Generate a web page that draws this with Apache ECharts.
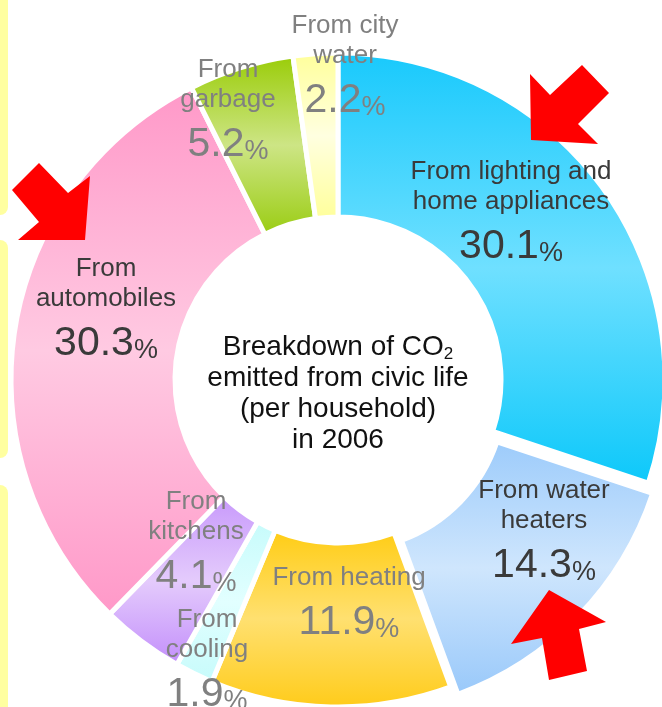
<!DOCTYPE html>
<html><head><meta charset="utf-8">
<script src="https://cdn.jsdelivr.net/npm/echarts@6/dist/echarts.min.js"></script>
<style>html,body{margin:0;padding:0;background:#fff;overflow:hidden}#c{width:662px;height:707px}</style>
</head><body><div id="c"></div>
<script>
// ---- data ----
const categories = ['From lighting and\nhome appliances', 'From water\nheaters', 'From heating', 'From\ncooling', 'From\nkitchens', 'From\nautomobiles', 'From\ngarbage', 'From city\nwater'];
const values = [30.1, 14.3, 11.9, 1.9, 4.1, 30.3, 5.2, 2.2];
const centerTitle = ['Breakdown of CO{s|2}', 'emitted from civic life', '(per household)', 'in 2006'];

// ---- styles ----
const gradients = [
  ['#18c9fc', '#6fe0ff', '#0cc8fa'],
  ['#9ccbfb', '#cfe6fd', '#98c8fa'],
  ['#ffcc12', '#ffe070', '#ffcb18'],
  ['#c6fbfb', '#e2ffff', '#c6fbfb'],
  ['#c798fb', '#e4cbfc', '#c28dfb'],
  ['#ff98c8', '#ffcae2', '#ff98c8'],
  ['#99cc05', '#cde585', '#99cc10'],
  ['#ffff99', '#ffffe0', '#ffff99']
];
const labelColors = ['#3a3a3a', '#3a3a3a', '#808080', '#808080', '#808080', '#3a3a3a', '#808080', '#808080'];
const labelAnchors = [[511, 157], [544, 476], [349, 563], [207, 605], [196, 487], [106, 254], [228, 55], [345, 11]];
const explodedItem = 1; // "From water heaters" is pulled out of the ring

const chart = echarts.init(document.getElementById('c'), null, { renderer: 'canvas' });

function buildData(showFn) {
  return categories.map((name, i) => {
    const vis = showFn(i);
    return {
      name: name,
      value: values[i],
      itemStyle: {
        opacity: vis ? 1 : 0,
        color: {
          type: 'linear', x: 0, y: 0, x2: 0, y2: 1,
          colorStops: [
            { offset: 0, color: gradients[i][0] },
            { offset: 0.5, color: gradients[i][1] },
            { offset: 1, color: gradients[i][2] }
          ]
        }
      },
      label: { show: vis, color: labelColors[i] }
    };
  });
}

const labelOpt = {
  show: true,
  position: 'inside',
  fontFamily: 'Liberation Sans, Arial, sans-serif',
  formatter: function (p) {
    const lines = p.name.split('\n').map(s => '{n|' + s + '}');
    return lines.join('\n') + '\n{v|' + p.value.toFixed(1) + '}{p|%}';
  },
  rich: {
    n: { fontSize: 26, lineHeight: 30 },
    v: { fontSize: 41, lineHeight: 50, verticalAlign: 'bottom' },
    p: { fontSize: 27, lineHeight: 42, verticalAlign: 'bottom' }
  }
};
function labelLayout(p) {
  const a = labelAnchors[p.dataIndex];
  return { x: a[0], y: a[1], align: 'center', verticalAlign: 'top' };
}
function pieSeries(center, radius, showFn, z) {
  return {
    type: 'pie',
    z: z,
    center: center,
    radius: radius,
    startAngle: 90,
    clockwise: true,
    avoidLabelOverlap: false,
    silent: true,
    emphasis: { scale: false, disabled: true },
    itemStyle: { borderColor: '#ffffff', borderWidth: 5 },
    labelLine: { show: false },
    label: labelOpt,
    labelLayout: labelLayout,
    data: buildData(showFn)
  };
}

function sideBox(y0, y1) {
  return { type: 'rect', z: 50, shape: { x: -12, y: y0, width: 20, height: y1 - y0, r: 8 }, style: { fill: '#ffffa0' } };
}
function arrow(pts) {
  return { type: 'polygon', z: 100, shape: { points: pts }, style: { fill: '#ff0000' } };
}

chart.setOption({
  backgroundColor: '#ffffff',
  animation: false,
  textStyle: { fontFamily: 'Liberation Sans, Arial, sans-serif' },
  series: [
    pieSeries([338, 380], [163, 327], i => i !== explodedItem, 3),
    pieSeries([347, 392], [158, 322], i => i === explodedItem, 2)
  ],
  graphic: [
    sideBox(-10, 215), sideBox(240, 458), sideBox(485, 720),
    arrow([[530, 74], [531, 140], [598, 144], [578, 124], [609, 93], [582, 65], [550, 95]]),
    arrow([[12, 190], [39, 163], [68, 193], [90, 176], [85, 240], [18, 240], [39, 222]]),
    arrow([[549, 590], [606, 622], [579, 629], [587, 671], [549, 680], [542, 638], [511, 644]]),
    {
      type: 'text', z: 100, x: 338, y: 394,
      style: {
        text: centerTitle.join('\n'),
        font: '28px "Liberation Sans", Arial, sans-serif',
        fill: '#111111',
        align: 'center', verticalAlign: 'middle',
        lineHeight: 31,
        rich: { s: { fontSize: 17, lineHeight: 14, verticalAlign: 'bottom', fill: '#111111', fontFamily: 'Liberation Sans, Arial, sans-serif' } }
      }
    }
  ]
});
</script>
</body></html>
